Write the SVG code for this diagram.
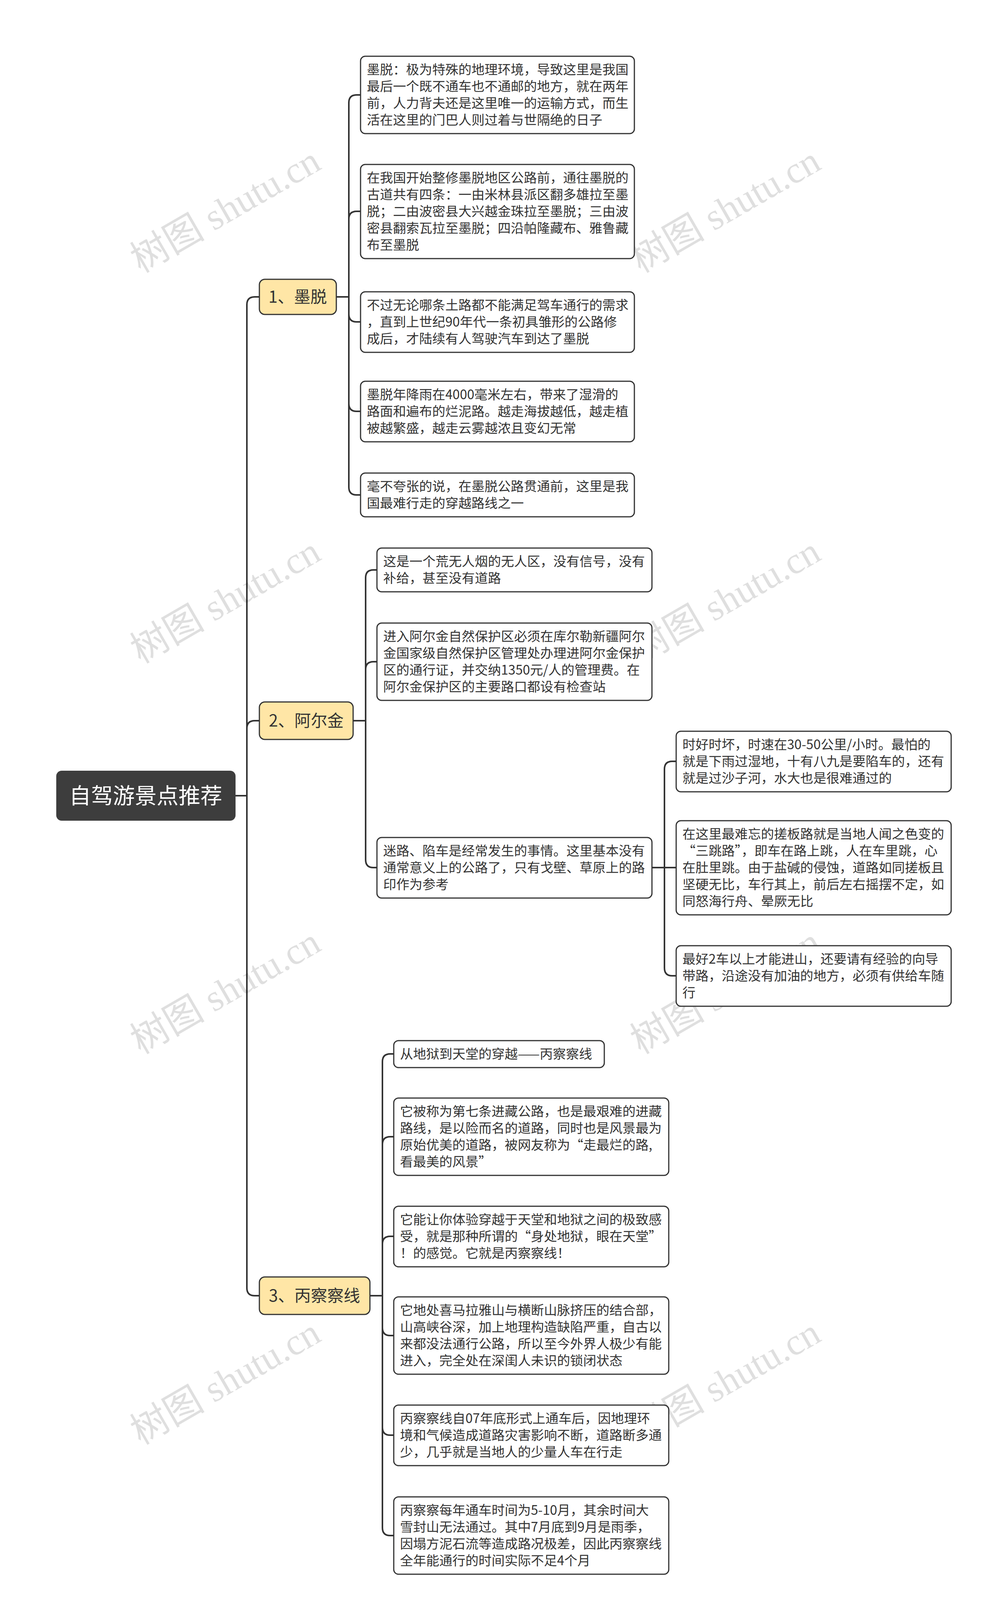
<svg xmlns="http://www.w3.org/2000/svg" width="2560" height="4149" viewBox="0 0 2560 4149">
<style>
.bg{fill:#fff}
.box{fill:#fff;stroke:#333;stroke-width:3}
.l1{fill:#FFE6A6;stroke:#333;stroke-width:3}
.root{fill:#3d3d3d}
.t{font-family:"Noto Sans CJK SC","Noto Sans",sans-serif;font-size:33.5px;fill:#333}
.t1{font-family:"Noto Sans CJK SC","Noto Sans",sans-serif;font-size:42px;fill:#333}
.tr{font-family:"Noto Sans CJK SC","Noto Sans",sans-serif;font-size:56px;fill:#fff}
.wm{font-family:"Liberation Serif","Noto Sans CJK SC",serif;font-size:96px;fill:#000;opacity:0.12}
#connectors path{fill:none;stroke:#333;stroke-width:4}
</style>
<rect class="bg" width="2560" height="4149"/>
<g id="connectors">
<path d="M603,2037 H632 M632,2037 V780 Q632,760 652,760 H664 M632,2037 V1865 Q632,1845 652,1845 H664 M632,2037 V3297 Q632,3317 652,3317 H664"/>
<path d="M861,760 H893 M893,760 V263 Q893,243 913,243 H923 M893,760 V561 Q893,541 913,541 H923 M893,760 V804 Q893,824 913,824 H923 M893,760 V1033 Q893,1053 913,1053 H923 M893,760 V1247 Q893,1267 913,1267 H923"/>
<path d="M904,1845 H936 M936,1845 V1479 Q936,1459 956,1459 H965 M936,1845 V1714 Q936,1694 956,1694 H965 M936,1845 V2201 Q936,2221 956,2221 H965"/>
<path d="M1669,2221 H1701 M1701,2221 V1969 Q1701,1949 1721,1949 H1731 M1701,2221 H1731 M1701,2221 V2478 Q1701,2498 1721,2498 H1731"/>
<path d="M947,3317 H979 M979,3317 V2718 Q979,2698 999,2698 H1008 M979,3317 V2930 Q979,2910 999,2910 H1008 M979,3317 V3185 Q979,3165 999,3165 H1008 M979,3317 V3399 Q979,3419 999,3419 H1008 M979,3317 V3654 Q979,3674 999,3674 H1008 M979,3317 V3911 Q979,3931 999,3931 H1008"/>
</g>
<g id="watermarks">
<text class="wm" transform="translate(360,700) rotate(-30)">树图 shutu.cn</text>
<text class="wm" transform="translate(1640,700) rotate(-30)">树图 shutu.cn</text>
<text class="wm" transform="translate(360,1700) rotate(-30)">树图 shutu.cn</text>
<text class="wm" transform="translate(1640,1700) rotate(-30)">树图 shutu.cn</text>
<text class="wm" transform="translate(360,2700) rotate(-30)">树图 shutu.cn</text>
<text class="wm" transform="translate(1640,2700) rotate(-30)">树图 shutu.cn</text>
<text class="wm" transform="translate(360,3700) rotate(-30)">树图 shutu.cn</text>
<text class="wm" transform="translate(1640,3700) rotate(-30)">树图 shutu.cn</text>
</g>
<g id="root"><rect class="root" x="144" y="1973" width="459" height="128" rx="14"/><text class="tr" x="373" y="2057" text-anchor="middle">自驾游景点推荐</text></g>
<g id="n1"><rect class="l1" x="664" y="715" width="197" height="90" rx="14"/><text class="t1" x="762" y="775" text-anchor="middle">1、墨脱</text></g>
<g id="n2"><rect class="l1" x="664" y="1797" width="240" height="96" rx="14"/><text class="t1" x="784" y="1860" text-anchor="middle">2、阿尔金</text></g>
<g id="n3"><rect class="l1" x="664" y="3269" width="283" height="96" rx="14"/><text class="t1" x="805" y="3332" text-anchor="middle">3、丙察察线</text></g>
<g id="c1"><rect class="box" x="923" y="144" width="701" height="198" rx="12"/><text class="t"><tspan x="939" y="190">墨脱：极为特殊的地理环境，导致这里是我国</tspan><tspan x="939" y="233">最后一个既不通车也不通邮的地方，就在两年</tspan><tspan x="939" y="276">前，人力背夫还是这里唯一的运输方式，而生</tspan><tspan x="939" y="319">活在这里的门巴人则过着与世隔绝的日子</tspan></text></g>
<g id="c2"><rect class="box" x="923" y="421" width="701" height="241" rx="12"/><text class="t"><tspan x="939" y="467">在我国开始整修墨脱地区公路前，通往墨脱的</tspan><tspan x="939" y="510">古道共有四条：一由米林县派区翻多雄拉至墨</tspan><tspan x="939" y="553">脱；二由波密县大兴越金珠拉至墨脱；三由波</tspan><tspan x="939" y="596">密县翻索瓦拉至墨脱；四沿帕隆藏布、雅鲁藏</tspan><tspan x="939" y="639">布至墨脱</tspan></text></g>
<g id="c3"><rect class="box" x="923" y="747" width="701" height="155" rx="12"/><text class="t"><tspan x="939" y="793">不过无论哪条土路都不能满足驾车通行的需求</tspan><tspan x="939" y="836">，直到上世纪90年代一条初具雏形的公路修</tspan><tspan x="939" y="879">成后，才陆续有人驾驶汽车到达了墨脱</tspan></text></g>
<g id="c4"><rect class="box" x="923" y="976" width="701" height="155" rx="12"/><text class="t"><tspan x="939" y="1022">墨脱年降雨在4000毫米左右，带来了湿滑的</tspan><tspan x="939" y="1065">路面和遍布的烂泥路。越走海拔越低，越走植</tspan><tspan x="939" y="1108">被越繁盛，越走云雾越浓且变幻无常</tspan></text></g>
<g id="c5"><rect class="box" x="923" y="1211" width="701" height="112" rx="12"/><text class="t"><tspan x="939" y="1257">毫不夸张的说，在墨脱公路贯通前，这里是我</tspan><tspan x="939" y="1300">国最难行走的穿越路线之一</tspan></text></g>
<g id="a1"><rect class="box" x="965" y="1403" width="704" height="112" rx="12"/><text class="t"><tspan x="981" y="1449">这是一个荒无人烟的无人区，没有信号，没有</tspan><tspan x="981" y="1492">补给，甚至没有道路</tspan></text></g>
<g id="a2"><rect class="box" x="965" y="1595" width="704" height="198" rx="12"/><text class="t"><tspan x="981" y="1641">进入阿尔金自然保护区必须在库尔勒新疆阿尔</tspan><tspan x="981" y="1684">金国家级自然保护区管理处办理进阿尔金保护</tspan><tspan x="981" y="1727">区的通行证，并交纳1350元/人的管理费。在</tspan><tspan x="981" y="1770">阿尔金保护区的主要路口都设有检查站</tspan></text></g>
<g id="a3"><rect class="box" x="965" y="2144" width="704" height="155" rx="12"/><text class="t"><tspan x="981" y="2190">迷路、陷车是经常发生的事情。这里基本没有</tspan><tspan x="981" y="2233">通常意义上的公路了，只有戈壁、草原上的路</tspan><tspan x="981" y="2276">印作为参考</tspan></text></g>
<g id="b1"><rect class="box" x="1731" y="1872" width="704" height="155" rx="12"/><text class="t"><tspan x="1747" y="1918">时好时坏，时速在30-50公里/小时。最怕的</tspan><tspan x="1747" y="1961">就是下雨过湿地，十有八九是要陷车的，还有</tspan><tspan x="1747" y="2004">就是过沙子河，水大也是很难通过的</tspan></text></g>
<g id="b2"><rect class="box" x="1731" y="2101" width="704" height="241" rx="12"/><text class="t"><tspan x="1747" y="2147">在这里最难忘的搓板路就是当地人闻之色变的</tspan><tspan x="1747" y="2190">“三跳路”，即车在路上跳，人在车里跳，心</tspan><tspan x="1747" y="2233">在肚里跳。由于盐碱的侵蚀，道路如同搓板且</tspan><tspan x="1747" y="2276">坚硬无比，车行其上，前后左右摇摆不定，如</tspan><tspan x="1747" y="2319">同怒海行舟、晕厥无比</tspan></text></g>
<g id="b3"><rect class="box" x="1731" y="2421" width="704" height="155" rx="12"/><text class="t"><tspan x="1747" y="2467">最好2车以上才能进山，还要请有经验的向导</tspan><tspan x="1747" y="2510">带路，沿途没有加油的地方，必须有供给车随</tspan><tspan x="1747" y="2553">行</tspan></text></g>
<g id="d1"><rect class="box" x="1008" y="2664" width="539" height="69" rx="12"/><text class="t"><tspan x="1024" y="2710">从地狱到天堂的穿越——丙察察线</tspan></text></g>
<g id="d2"><rect class="box" x="1008" y="2811" width="704" height="198" rx="12"/><text class="t"><tspan x="1024" y="2857">它被称为第七条进藏公路，也是最艰难的进藏</tspan><tspan x="1024" y="2900">路线，是以险而名的道路，同时也是风景最为</tspan><tspan x="1024" y="2943">原始优美的道路，被网友称为“走最烂的路,</tspan><tspan x="1024" y="2986">看最美的风景”</tspan></text></g>
<g id="d3"><rect class="box" x="1008" y="3088" width="704" height="155" rx="12"/><text class="t"><tspan x="1024" y="3134">它能让你体验穿越于天堂和地狱之间的极致感</tspan><tspan x="1024" y="3177">受，就是那种所谓的“身处地狱，眼在天堂”</tspan><tspan x="1024" y="3220">！的感觉。它就是丙察察线！</tspan></text></g>
<g id="d4"><rect class="box" x="1008" y="3320" width="704" height="198" rx="12"/><text class="t"><tspan x="1024" y="3366">它地处喜马拉雅山与横断山脉挤压的结合部，</tspan><tspan x="1024" y="3409">山高峡谷深，加上地理构造缺陷严重，自古以</tspan><tspan x="1024" y="3452">来都没法通行公路，所以至今外界人极少有能</tspan><tspan x="1024" y="3495">进入，完全处在深闺人未识的锁闭状态</tspan></text></g>
<g id="d5"><rect class="box" x="1008" y="3597" width="704" height="155" rx="12"/><text class="t"><tspan x="1024" y="3643">丙察察线自07年底形式上通车后，因地理环</tspan><tspan x="1024" y="3686">境和气候造成道路灾害影响不断，道路断多通</tspan><tspan x="1024" y="3729">少，几乎就是当地人的少量人车在行走</tspan></text></g>
<g id="d6"><rect class="box" x="1008" y="3832" width="704" height="198" rx="12"/><text class="t"><tspan x="1024" y="3878">丙察察每年通车时间为5-10月，其余时间大</tspan><tspan x="1024" y="3921">雪封山无法通过。其中7月底到9月是雨季，</tspan><tspan x="1024" y="3964">因塌方泥石流等造成路况极差，因此丙察察线</tspan><tspan x="1024" y="4007">全年能通行的时间实际不足4个月</tspan></text></g>
</svg>
